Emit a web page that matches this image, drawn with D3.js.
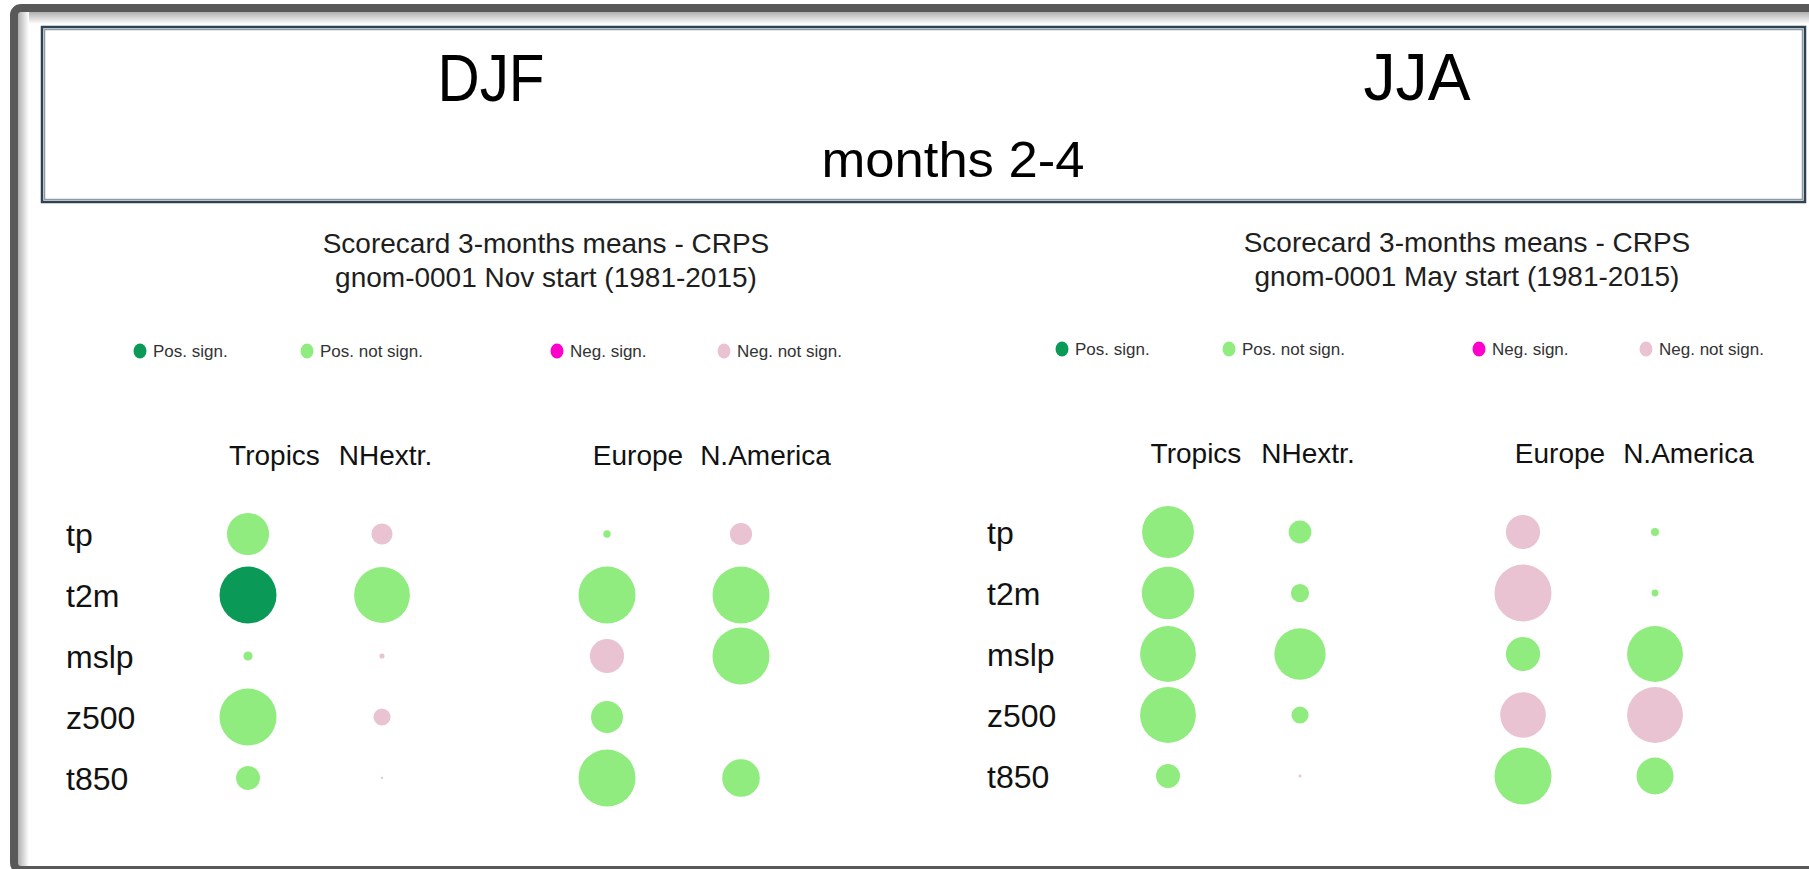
<!DOCTYPE html>
<html>
<head>
<meta charset="utf-8">
<script src="https://cdn.jsdelivr.net/npm/d3@7"></script>
<style>
  body { margin: 0; background: #fff; }
  text { font-family: "Liberation Sans", Arial, sans-serif; }
</style>
</head>
<body>
<svg id="chart"></svg>
<script>

var width = 1809,
    height = 869;

// categories
var regions = ["Tropics", "NHextr.", "Europe", "N.America"];
var variables = ["tp", "t2m", "mslp", "z500", "t850"];
var legendLabels = ["Pos. sign.", "Pos. not sign.", "Neg. sign.", "Neg. not sign."];

// CRPSS, rows = variables, cols = regions
var crpssDJF = [
    [0.074, -0.037,  0.013, -0.039],
    [0.100,  0.098,  0.100,  0.100],
    [0.016, -0.009, -0.060,  0.100],
    [0.100, -0.030,  0.056,  0.000],
    [0.042, -0.004,  0.100,  0.066]
];
var signifDJF = [
    [0, 0, 0, 0],
    [1, 0, 0, 0],
    [0, 0, 0, 0],
    [0, 0, 0, 0],
    [0, 0, 0, 0]
];
var crpssJJA = [
    [0.091,  0.040, -0.060,  0.014],
    [0.092,  0.032, -0.100,  0.012],
    [0.098,  0.090,  0.060,  0.098],
    [0.098,  0.030, -0.080, -0.098],
    [0.042, -0.005,  0.100,  0.065]
];
var signifJJA = [
    [0, 0, 0, 0],
    [0, 0, 0, 0],
    [0, 0, 0, 0],
    [0, 0, 0, 0],
    [0, 0, 0, 0]
];

var seasons = ["DJF", "JJA"];
var startMonths = ["Nov", "May"];

var color = d3.scaleOrdinal()
    .domain(legendLabels)
    .range(["#0a9956", "#90ec7f", "#ff00cc", "#e9c3d2"]);

var r = d3.scaleLinear()
    .domain([0, 0.1])
    .range([0, 28.5])
    .clamp(true);

var svg = d3.select("#chart")
    .attr("width", width)
    .attr("height", height);

var defs = svg.append("defs");
var gTop = defs.append("linearGradient").attr("id", "shTop")
    .attr("x1", 0).attr("y1", 0).attr("x2", 0).attr("y2", 1);
gTop.append("stop").attr("offset", "0%").attr("stop-color", "#b0b0b0");
gTop.append("stop").attr("offset", "100%").attr("stop-color", "#fff");
var gLeft = defs.append("linearGradient").attr("id", "shLeft")
    .attr("x1", 0).attr("y1", 0).attr("x2", 1).attr("y2", 0);
gLeft.append("stop").attr("offset", "0%").attr("stop-color", "#b0b0b0");
gLeft.append("stop").attr("offset", "100%").attr("stop-color", "#fff");

svg.append("rect").attr("width", width).attr("height", height).attr("fill", "#fff");

// inner shading of the outer frame
svg.append("rect").attr("x", 18).attr("y", 12).attr("width", width).attr("height", 12)
    .attr("fill", "url(#shTop)");
svg.append("rect").attr("x", 18).attr("y", 12).attr("width", 11).attr("height", 856)
    .attr("fill", "url(#shLeft)");

// outer frame
svg.append("rect")
    .attr("x", 14).attr("y", 8)
    .attr("width", 1850).attr("height", 862)
    .attr("rx", 7)
    .attr("fill", "none")
    .attr("stroke", "#595959")
    .attr("stroke-width", 8);

// header box
svg.append("rect")
    .attr("x", 42).attr("y", 27).attr("width", 1763).attr("height", 175)
    .attr("fill", "#fff").attr("stroke", "#2e4252").attr("stroke-width", 2.5);
svg.append("rect")
    .attr("x", 44.5).attr("y", 29.5).attr("width", 1758).attr("height", 170)
    .attr("fill", "none").attr("stroke", "#8e9ba6").attr("stroke-width", 1.5);

var header = [
    {t: seasons[0], x: 491, y: 101, size: 66, len: 107},
    {t: seasons[1], x: 1417, y: 100, size: 66, len: 107},
    {t: "months 2-4", x: 953, y: 177, size: 50, len: 263}
];
svg.selectAll(".head")
    .data(header)
  .enter().append("text")
    .attr("class", "head")
    .attr("x", function(d) { return d.x; })
    .attr("y", function(d) { return d.y; })
    .attr("text-anchor", "middle")
    .attr("font-size", function(d) { return d.size; })
    .attr("textLength", function(d) { return d.len; })
    .attr("lengthAdjust", "spacingAndGlyphs")
    .attr("fill", "#000")
    .text(function(d) { return d.t; });

// layout of the two scorecards
var panels = [
    {crpss: crpssDJF, sig: signifDJF, start: startMonths[0],
     groups: [248, 607], step: 134, rows: [534, 778], labelX: 66,
     titleX: 546, titleY: 253, legend: [140, 557], legStep: 167, legY: 351,
     colY: 465, colOff: [26.5, 3.5, 31, 24.5]},
    {crpss: crpssJJA, sig: signifJJA, start: startMonths[1],
     groups: [1168, 1523], step: 132, rows: [532, 776], labelX: 987,
     titleX: 1467, titleY: 252, legend: [1062, 1479], legStep: 167, legY: 349,
     colY: 463, colOff: [28, 8, 37, 33.5]}
];

panels.forEach(drawPanel);

function drawPanel(p) {

    var g = svg.append("g");

    var group = d3.scalePoint().domain([0, 1]).range(p.groups);
    var inner = d3.scalePoint().domain([0, 1]).range([0, p.step]);
    function x(region) {
        var i = regions.indexOf(region);
        return group(Math.floor(i / 2)) + inner(i % 2);
    }
    var y = d3.scalePoint().domain(variables).range(p.rows);

    // title
    g.append("text")
        .attr("x", p.titleX).attr("y", p.titleY)
        .attr("text-anchor", "middle")
        .attr("font-size", 28)
        .attr("fill", "#1e1e1e")
        .text("Scorecard 3-months means - CRPS");
    g.append("text")
        .attr("x", p.titleX).attr("y", p.titleY + 34)
        .attr("text-anchor", "middle")
        .attr("font-size", 28)
        .attr("fill", "#1e1e1e")
        .text("gnom-0001 " + p.start + " start (1981-2015)");

    // legend
    var lg = d3.scalePoint().domain([0, 1]).range(p.legend);
    var li = d3.scalePoint().domain([0, 1]).range([0, p.legStep]);
    var leg = g.selectAll(".leg")
        .data(legendLabels)
      .enter().append("g")
        .attr("transform", function(d, i) {
            return "translate(" + (lg(Math.floor(i / 2)) + li(i % 2)) + "," + p.legY + ")";
        });
    leg.append("ellipse")
        .attr("rx", 6.5).attr("ry", 7.5)
        .attr("fill", function(d) { return color(d); });
    leg.append("text")
        .attr("x", 13).attr("y", 6)
        .attr("font-size", 17)
        .attr("fill", "#333")
        .text(function(d) { return d; });

    // column labels
    g.selectAll(".col")
        .data(regions)
      .enter().append("text")
        .attr("x", function(d, i) { return x(d) + p.colOff[i]; })
        .attr("y", p.colY)
        .attr("text-anchor", "middle")
        .attr("font-size", 28)
        .attr("fill", "#111")
        .text(function(d) { return d; });

    // row labels
    g.selectAll(".row")
        .data(variables)
      .enter().append("text")
        .attr("x", p.labelX)
        .attr("y", function(d) { return y(d) + 11.5; })
        .attr("font-size", 32)
        .attr("fill", "#111")
        .text(function(d) { return d; });

    // bubbles
    var cells = [];
    variables.forEach(function(v, i) {
        regions.forEach(function(reg, j) {
            cells.push({v: v, reg: reg, val: p.crpss[i][j], sig: p.sig[i][j]});
        });
    });

    g.selectAll(".cell")
        .data(cells.filter(function(d) { return d.val !== 0; }))
      .enter().append("circle")
        .attr("cx", function(d) { return x(d.reg); })
        .attr("cy", function(d) { return y(d.v); })
        .attr("r", function(d) { return r(Math.abs(d.val)); })
        .attr("fill", function(d) {
            var k = (d.val > 0 ? 0 : 2) + (d.sig ? 0 : 1);
            return color(legendLabels[k]);
        });
}

</script>
</body>
</html>
